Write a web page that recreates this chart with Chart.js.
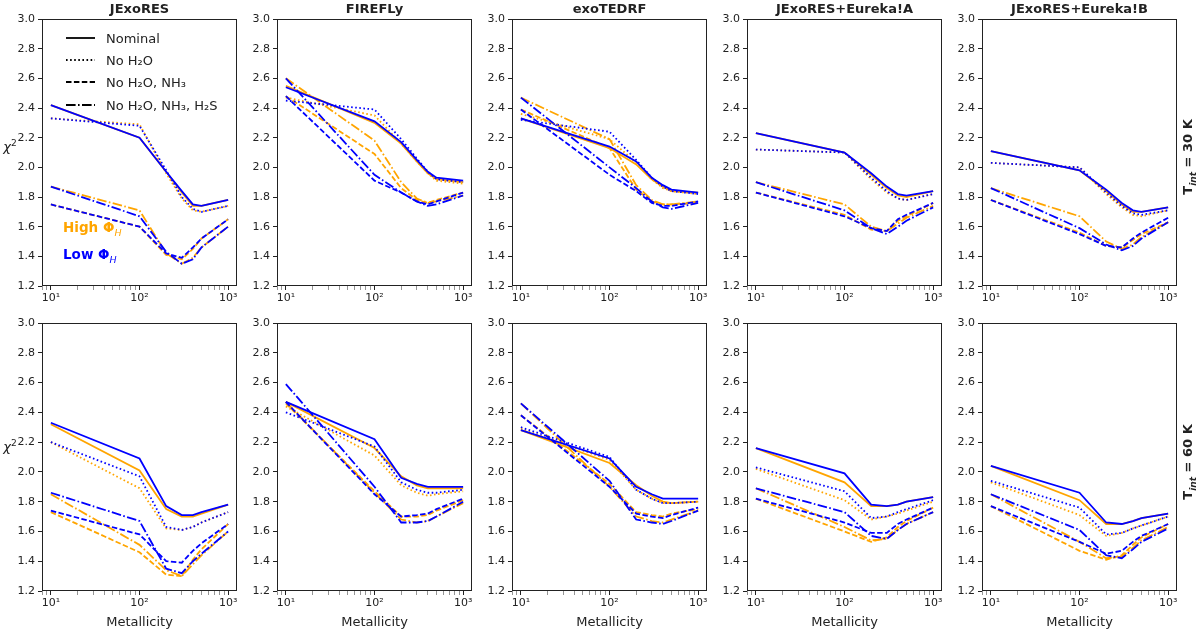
<!DOCTYPE html>
<html>
<head>
<meta charset="utf-8">
<script src="https://cdn.jsdelivr.net/npm/chart.js@4"></script>
<style>
  body { margin: 0; background: #fff; font-family: 'DejaVu Sans', sans-serif; }
  #fig { position: relative; width: 1200px; height: 633px; overflow: hidden; color: #222; }
  .panel { position: absolute; }
  .lbl { position: absolute; transform: translate(-50%, -50%); white-space: nowrap; }
  .title { font-weight: bold; font-size: 13px; }
  .tint { font-weight: bold; font-size: 13px; transform: translate(-50%, -50%) rotate(-90deg); }
  .chi { font-size: 13px; font-style: italic; }
  .phi { position: absolute; font-weight: bold; font-size: 13.5px; white-space: nowrap; }
  sub, sup { font-size: 70%; }
</style>
</head>
<body>
<div id="fig"></div>
<script>
// x values shared by every curve
const metallicity = [10, 100, 200, 300, 400, 500, 1000];
const panelTitles = ['JExoRES', 'FIREFLy', 'exoTEDRF', 'JExoRES+Eureka!A', 'JExoRES+Eureka!B'];
const rowLabels = ['30 K', '60 K'];
const yTicks = [1.2, 1.4, 1.6, 1.8, 2.0, 2.2, 2.4, 2.6, 2.8, 3.0];
const xMajorTicks = [10, 100, 1000];
const xTickLabels = ['10¹', '10²', '10³'];
const xMinorTicks = [8, 9, 20, 30, 40, 50, 60, 70, 80, 90, 200, 300, 400, 500, 600, 700, 800, 900];
const legendLabels = ['Nominal', 'No H₂O', 'No H₂O, NH₃', 'No H₂O, NH₃, H₂S'];

// rows: nominal hi/lo, no H2O hi/lo, no H2O+NH3 hi/lo, no H2O+NH3+H2S hi/lo  (hi = High Phi_H, lo = Low Phi_H)
const jexores30K = [
  [2.42, 2.20, 1.97, 1.83, 1.74, 1.74, 1.78],
  [2.42, 2.20, 1.97, 1.84, 1.75, 1.74, 1.78],
  [2.33, 2.29, 1.96, 1.79, 1.71, 1.70, 1.74],
  [2.33, 2.28, 1.98, 1.80, 1.72, 1.70, 1.74],
  [1.75, 1.60, 1.41, 1.38, 1.45, 1.52, 1.65],
  [1.75, 1.60, 1.42, 1.39, 1.46, 1.52, 1.65],
  [1.87, 1.71, 1.42, 1.35, 1.39, 1.46, 1.60],
  [1.87, 1.67, 1.43, 1.35, 1.38, 1.46, 1.60]
];
const firefly30K = [
  [2.55, 2.30, 2.16, 2.04, 1.96, 1.92, 1.90],
  [2.54, 2.31, 2.17, 2.05, 1.97, 1.93, 1.91],
  [2.47, 2.35, 2.16, 2.04, 1.96, 1.91, 1.89],
  [2.45, 2.39, 2.19, 2.06, 1.97, 1.92, 1.90],
  [2.48, 2.09, 1.86, 1.78, 1.76, 1.78, 1.83],
  [2.48, 1.91, 1.83, 1.77, 1.75, 1.77, 1.83],
  [2.60, 2.18, 1.90, 1.79, 1.76, 1.77, 1.81],
  [2.60, 1.95, 1.83, 1.77, 1.74, 1.75, 1.81]
];
const exotedrf30K = [
  [2.33, 2.13, 2.02, 1.92, 1.87, 1.84, 1.83],
  [2.33, 2.14, 2.04, 1.93, 1.88, 1.85, 1.83],
  [2.36, 2.19, 2.03, 1.92, 1.86, 1.84, 1.82],
  [2.32, 2.24, 2.05, 1.93, 1.87, 1.84, 1.82],
  [2.39, 2.13, 1.85, 1.77, 1.75, 1.75, 1.76],
  [2.39, 1.95, 1.84, 1.76, 1.74, 1.74, 1.77],
  [2.47, 2.19, 1.88, 1.78, 1.75, 1.75, 1.77],
  [2.47, 2.00, 1.86, 1.77, 1.73, 1.72, 1.76]
];
const eurekaA30K = [
  [2.23, 2.10, 1.95, 1.86, 1.81, 1.80, 1.84],
  [2.23, 2.10, 1.96, 1.87, 1.82, 1.81, 1.84],
  [2.12, 2.10, 1.92, 1.83, 1.79, 1.78, 1.82],
  [2.12, 2.10, 1.93, 1.84, 1.79, 1.78, 1.82],
  [1.83, 1.68, 1.58, 1.57, 1.64, 1.67, 1.76],
  [1.83, 1.67, 1.59, 1.57, 1.65, 1.68, 1.76],
  [1.90, 1.75, 1.60, 1.57, 1.62, 1.66, 1.74],
  [1.90, 1.71, 1.59, 1.55, 1.60, 1.64, 1.73]
];
const eurekaB30K = [
  [2.11, 1.98, 1.84, 1.75, 1.70, 1.70, 1.73],
  [2.11, 1.98, 1.85, 1.76, 1.71, 1.70, 1.73],
  [2.03, 2.00, 1.82, 1.73, 1.68, 1.67, 1.71],
  [2.03, 2.00, 1.83, 1.74, 1.69, 1.68, 1.71],
  [1.78, 1.56, 1.47, 1.46, 1.51, 1.55, 1.63],
  [1.78, 1.55, 1.47, 1.46, 1.52, 1.56, 1.66],
  [1.86, 1.67, 1.50, 1.45, 1.48, 1.53, 1.63],
  [1.86, 1.59, 1.48, 1.44, 1.47, 1.52, 1.63]
];
const jexores60K = [
  [2.32, 2.01, 1.75, 1.70, 1.70, 1.72, 1.78],
  [2.33, 2.09, 1.77, 1.71, 1.71, 1.73, 1.78],
  [2.20, 1.89, 1.62, 1.61, 1.63, 1.66, 1.73],
  [2.20, 1.97, 1.63, 1.61, 1.63, 1.66, 1.73],
  [1.73, 1.46, 1.31, 1.30, 1.41, 1.48, 1.65],
  [1.74, 1.58, 1.40, 1.39, 1.47, 1.52, 1.65],
  [1.85, 1.51, 1.34, 1.30, 1.38, 1.44, 1.60],
  [1.86, 1.67, 1.35, 1.32, 1.40, 1.45, 1.60]
];
const firefly60K = [
  [2.47, 2.16, 1.97, 1.91, 1.89, 1.89, 1.89],
  [2.47, 2.22, 1.96, 1.92, 1.90, 1.90, 1.90],
  [2.44, 2.11, 1.91, 1.86, 1.84, 1.85, 1.87],
  [2.40, 2.17, 1.93, 1.88, 1.86, 1.86, 1.88],
  [2.46, 1.87, 1.70, 1.70, 1.71, 1.74, 1.81],
  [2.47, 1.85, 1.70, 1.71, 1.72, 1.75, 1.82],
  [2.47, 1.86, 1.68, 1.66, 1.67, 1.70, 1.79],
  [2.59, 1.90, 1.66, 1.66, 1.67, 1.70, 1.80]
];
const exotedrf60K = [
  [2.28, 2.06, 1.91, 1.84, 1.80, 1.79, 1.80],
  [2.28, 2.09, 1.90, 1.85, 1.82, 1.82, 1.82],
  [2.29, 2.08, 1.88, 1.82, 1.79, 1.79, 1.80],
  [2.30, 2.10, 1.88, 1.82, 1.79, 1.79, 1.80],
  [2.38, 1.92, 1.73, 1.71, 1.70, 1.72, 1.75],
  [2.38, 1.90, 1.72, 1.70, 1.69, 1.71, 1.76],
  [2.46, 1.90, 1.70, 1.67, 1.66, 1.68, 1.74],
  [2.46, 1.94, 1.68, 1.66, 1.65, 1.67, 1.74]
];
const eurekaA60K = [
  [2.16, 1.93, 1.77, 1.77, 1.78, 1.80, 1.83],
  [2.16, 1.99, 1.78, 1.77, 1.78, 1.80, 1.83],
  [2.02, 1.81, 1.68, 1.70, 1.72, 1.74, 1.80],
  [2.03, 1.87, 1.69, 1.70, 1.73, 1.75, 1.81],
  [1.82, 1.60, 1.53, 1.56, 1.63, 1.67, 1.76],
  [1.82, 1.66, 1.59, 1.59, 1.65, 1.68, 1.76],
  [1.89, 1.63, 1.54, 1.55, 1.61, 1.65, 1.73],
  [1.89, 1.73, 1.57, 1.55, 1.61, 1.65, 1.73]
];
const eurekaB60K = [
  [2.04, 1.81, 1.65, 1.65, 1.67, 1.69, 1.72],
  [2.04, 1.86, 1.66, 1.65, 1.67, 1.69, 1.72],
  [1.93, 1.71, 1.57, 1.59, 1.62, 1.64, 1.70],
  [1.94, 1.76, 1.58, 1.59, 1.62, 1.64, 1.70],
  [1.77, 1.47, 1.41, 1.44, 1.51, 1.56, 1.65],
  [1.77, 1.53, 1.45, 1.47, 1.53, 1.57, 1.65],
  [1.85, 1.53, 1.42, 1.43, 1.49, 1.54, 1.63],
  [1.85, 1.61, 1.44, 1.42, 1.48, 1.53, 1.62]
];

const panels = [jexores30K, firefly30K, exotedrf30K, eurekaA30K, eurekaB30K,
                jexores60K, firefly60K, exotedrf60K, eurekaA60K, eurekaB60K];

// matplotlib-like dash patterns
const dashes = [[], [1.6, 2.5], [5.5, 2.4], [9.6, 2.4, 1.6, 2.4]];
const HIGH = '#ffa500';
const LOW = '#0000ff';
const INK = '#222';
const LW = 1.8;

Chart.defaults.font.family = "'DejaVu Sans', sans-serif";
Chart.defaults.color = INK;

// full box around the axes, like matplotlib spines
const framePlugin = {
  id: 'frame',
  afterDraw(chart) {
    const { ctx, chartArea: a } = chart;
    ctx.save();
    ctx.strokeStyle = INK;
    ctx.lineWidth = 1;
    ctx.strokeRect(Math.round(a.left) + 0.5, Math.round(a.top) + 0.5,
      Math.round(a.right - a.left) - 1, Math.round(a.bottom - a.top) - 1);
    ctx.restore();
  }
};

// line-style legend inside the first panel
const legendPlugin = {
  id: 'styleLegend',
  afterDraw(chart, args, opts) {
    if (!opts.show) return;
    const ctx = chart.ctx;
    const rows = [38, 60, 82, 105];
    ctx.save();
    ctx.lineWidth = LW;
    ctx.strokeStyle = '#000';
    ctx.fillStyle = INK;
    ctx.font = "13px 'DejaVu Sans'";
    legendLabels.forEach((txt, i) => {
      ctx.setLineDash(dashes[i]);
      ctx.beginPath();
      ctx.moveTo(66, rows[i]);
      ctx.lineTo(95, rows[i]);
      ctx.stroke();
      ctx.fillText(txt, 106, rows[i] + 4.5);
    });
    ctx.restore();
  }
};

const fig = document.getElementById('fig');

function makePanel(idx) {
  const row = Math.floor(idx / 5), col = idx % 5;
  const top = row === 0 ? 0 : 304;
  const height = row === 0 ? 310 : 329;
  const width = 242;

  const canvas = document.createElement('canvas');
  canvas.className = 'panel';
  canvas.width = width;
  canvas.height = height;
  canvas.style.left = (col * 235) + 'px';
  canvas.style.top = top + 'px';
  canvas.style.width = width + 'px';
  canvas.style.height = height + 'px';
  fig.appendChild(canvas);

  const series = panels[idx];
  const datasets = [];
  for (let k = 0; k < 4; k++) {
    datasets.push({
      data: series[2 * k + 1], borderColor: LOW, borderDash: dashes[k], order: 0
    });
    datasets.push({
      data: series[2 * k], borderColor: HIGH, borderDash: dashes[k], order: 1
    });
  }
  datasets.forEach(d => {
    d.data = d.data.map((v, i) => ({ x: metallicity[i], y: v }));
    d.borderWidth = LW;
    d.pointRadius = 0;
    d.tension = 0;
    d.fill = false;
  });

  new Chart(canvas.getContext('2d'), {
    type: 'line',
    data: { datasets },
    plugins: [framePlugin, legendPlugin],
    options: {
      responsive: false,
      animation: false,
      events: [],
      layout: { padding: { top: 19, right: 5, left: 0, bottom: 0 } },
      plugins: {
        legend: { display: false },
        tooltip: { enabled: false },
        styleLegend: { show: idx === 0 }
      },
      scales: {
        x: {
          type: 'logarithmic',
          min: Math.pow(10, 0.9),
          max: Math.pow(10, 3.1),
          afterBuildTicks: s => {
            s.ticks = xMinorTicks.concat(xMajorTicks).sort((a, b) => a - b)
              .map(v => ({ value: v, major: xMajorTicks.includes(v) }));
          },
          afterFit: s => { s.height = row === 0 ? 24 : 42; },
          border: { display: false },
          grid: {
            drawOnChartArea: false,
            drawTicks: true,
            tickLength: 4,
            tickColor: ctx => (ctx.tick && ctx.tick.major) ? INK : '#666',
            tickWidth: ctx => (ctx.tick && ctx.tick.major) ? 1 : 0.7
          },
          ticks: {
            autoSkip: false, maxRotation: 0, minRotation: 0, padding: 2,
            color: INK, font: { size: 11 },
            callback: v => {
              const i = xMajorTicks.indexOf(v);
              return i >= 0 ? xTickLabels[i] : '';
            }
          },
          title: {
            display: row === 1, text: 'Metallicity', color: INK,
            font: { size: 13 }, padding: { top: 0, bottom: 3 }
          }
        },
        y: {
          min: 1.2,
          max: 3.0,
          afterBuildTicks: s => { s.ticks = yTicks.map(v => ({ value: v })); },
          afterFit: s => { s.width = 42; },
          border: { display: false },
          grid: { drawOnChartArea: false, drawTicks: true, tickLength: 4, tickColor: INK },
          ticks: { padding: 3, color: INK, font: { size: 11 }, callback: v => v.toFixed(1) }
        }
      }
    }
  });
}

panels.forEach((p, i) => makePanel(i));

// text annotations
function addLabel(html, cls, x, y, color) {
  const d = document.createElement('div');
  d.className = cls;
  d.innerHTML = html;
  d.style.left = x + 'px';
  d.style.top = y + 'px';
  if (color) d.style.color = color;
  fig.appendChild(d);
}

panelTitles.forEach((t, c) => addLabel(t, 'lbl title', 42 + 235 * c + 97.5, 8));
addLabel('χ<sup style="font-style:normal">2</sup>', 'lbl chi', 10, 146);
addLabel('χ<sup style="font-style:normal">2</sup>', 'lbl chi', 10, 446);
addLabel('T<sub><i>int</i></sub> = ' + rowLabels[0], 'lbl tint', 1189, 157);
addLabel('T<sub><i>int</i></sub> = ' + rowLabels[1], 'lbl tint', 1189, 462);

const hi = document.createElement('div');
hi.className = 'phi';
hi.style.left = '63px'; hi.style.top = '219px'; hi.style.color = HIGH;
hi.innerHTML = 'High Φ<sub style="font-weight:normal"><i>H</i></sub>';
fig.appendChild(hi);
const lo = document.createElement('div');
lo.className = 'phi';
lo.style.left = '63px'; lo.style.top = '246px'; lo.style.color = LOW;
lo.innerHTML = 'Low Φ<sub style="font-weight:normal"><i>H</i></sub>';
fig.appendChild(lo);
</script>
</body>
</html>
